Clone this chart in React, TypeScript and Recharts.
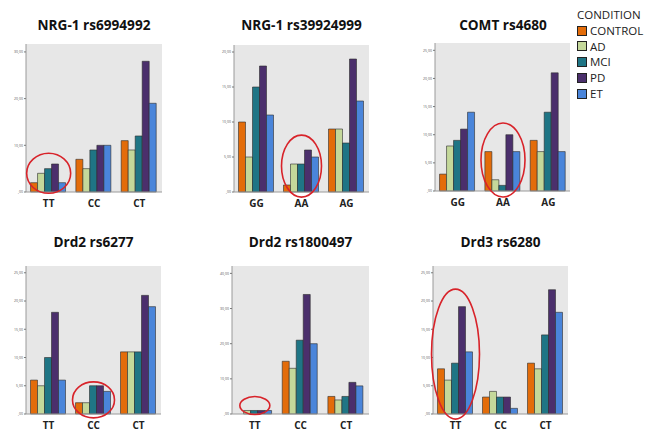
import { Bar, BarChart, CartesianGrid, ReferenceDot, XAxis, YAxis } from 'recharts'

const conditions = ['CONTROL', 'AD', 'MCI', 'PD', 'ET']
const colors = ['#E36C0A', '#C4D89A', '#1F7585', '#4B2F6C', '#4A85DA']

// values per genotype, in condition order
const nrg1aGenotypes = ['TT', 'CC', 'CT']
const nrg1aValues = [
  [2, 4, 5, 6, 2],
  [7, 5, 9, 10, 10],
  [11, 9, 12, 28, 19],
]
const nrg1aTicks = [0, 10, 20, 30]

const nrg1bGenotypes = ['GG', 'AA', 'AG']
const nrg1bValues = [
  [10, 5, 15, 18, 11],
  [1, 4, 4, 6, 5],
  [9, 9, 7, 19, 13],
]
const nrg1bTicks = [0, 5, 10, 15, 20]

const comtGenotypes = ['GG', 'AA', 'AG']
const comtValues = [
  [3, 8, 9, 11, 14],
  [7, 2, 1, 10, 7],
  [9, 7, 14, 21, 7],
]
const comtTicks = [0, 5, 10, 15, 20, 25]

const drd2aGenotypes = ['TT', 'CC', 'CT']
const drd2aValues = [
  [6, 5, 10, 18, 6],
  [2, 2, 5, 5, 4],
  [11, 11, 11, 21, 19],
]
const drd2aTicks = [0, 5, 10, 15, 20, 25]

const drd2bGenotypes = ['TT', 'CC', 'CT']
const drd2bValues = [
  [0, 1, 1, 1, 1],
  [15, 13, 21, 34, 20],
  [5, 4, 5, 9, 8],
]
const drd2bTicks = [0, 10, 20, 30, 40]

const drd3Genotypes = ['TT', 'CC', 'CT']
const drd3Values = [
  [8, 6, 9, 19, 11],
  [3, 4, 3, 3, 1],
  [9, 8, 14, 22, 18],
]
const drd3Ticks = [0, 5, 10, 15, 20, 25]

const toRows = (genotypes: string[], values: number[][]) =>
  genotypes.map((g, i) => {
    const row: Record<string, string | number> = { g }
    conditions.forEach((c, j) => (row[c] = values[i][j]))
    return row
  })

const panels = [
  {
    title: 'NRG-1 rs6994992', rows: toRows(nrg1aGenotypes, nrg1aValues), ticks: nrg1aTicks, max: 31.7,
    plot: [26, 44, 162, 192], cell: [0, 0], mark: { g: 'TT', y: 4, rx: 22, ry: 20 },
  },
  {
    title: 'NRG-1 rs39924999', rows: toRows(nrg1bGenotypes, nrg1bValues), ticks: nrg1bTicks, max: 21,
    plot: [234, 45, 369, 192], cell: [190, 0], mark: { g: 'AA', y: 3.7, rx: 20, ry: 31 },
  },
  {
    title: 'COMT rs4680', rows: toRows(comtGenotypes, comtValues), ticks: comtTicks, max: 26.3,
    plot: [435, 43, 571, 191], cell: [380, 0], mark: { g: 'AA', y: 5.5, rx: 22, ry: 37 },
  },
  {
    title: 'Drd2 rs6277', rows: toRows(drd2aGenotypes, drd2aValues), ticks: drd2aTicks, max: 26.2,
    plot: [26, 266, 161, 414], cell: [0, 215], mark: { g: 'CC', y: 2.5, rx: 21, ry: 18 },
  },
  {
    title: 'Drd2 rs1800497', rows: toRows(drd2bGenotypes, drd2bValues), ticks: drd2bTicks, max: 42.1,
    plot: [232, 266, 369, 414], cell: [190, 215], mark: { g: 'TT', y: 2.4, rx: 15, ry: 9 },
  },
  {
    title: 'Drd3 rs6280', rows: toRows(drd3Genotypes, drd3Values), ticks: drd3Ticks, max: 26.2,
    plot: [433, 266, 568, 414], cell: [380, 215], mark: { g: 'TT', y: 10.6, rx: 24, ry: 65 },
  },
]

const fmt = (v: number) => (v === 0 ? ',00' : `${v},00`)
const font = '"Open Sans", "Liberation Sans", sans-serif'

const Panel = ({ p }: { p: (typeof panels)[number] }) => {
  const [cx, cy] = p.cell
  const [x1, y1, x2, y2] = p.plot
  const w = 190
  const h = p.cell[1] === 0 ? 215 : 217
  const yw = 16
  const xh = 20
  const { rx, ry } = p.mark
  return (
    <>
      <div
        style={{
          position: 'absolute', left: x1 - 20, width: x2 - x1 + 40, top: cy + (cy === 0 ? 15 : 17), textAlign: 'center',
          fontWeight: 700, fontSize: 13.6, color: '#111', whiteSpace: 'nowrap',
        }}>
        {p.title}
      </div>
      <div style={{ position: 'absolute', left: cx, top: cy }}>
        <BarChart
          width={w}
          height={h}
          data={p.rows}
          barGap={0}
          barCategoryGap='10%'
          margin={{ top: y1 - cy, left: x1 - cx - yw, right: cx + w - x2, bottom: cy + h - y2 - xh }}>
          <CartesianGrid fill='#E7E7E7' horizontal={false} vertical={false} />
          <XAxis
            dataKey='g'
            height={xh}
            tickLine={false}
            axisLine={{ stroke: '#9a9a9a' }}
            tick={{ fontSize: 10, fontWeight: 700, fill: '#222', fontFamily: font }}
          />
          <XAxis xAxisId='top' dataKey='g' orientation='top' height={0} tick={false} tickLine={false} axisLine={{ stroke: '#9a9a9a' }} />
          <YAxis
            width={yw}
            domain={[0, p.max]}
            ticks={p.ticks}
            tickFormatter={fmt}
            tickSize={2}
            tickMargin={1}
            axisLine={{ stroke: '#9a9a9a' }}
            tickLine={{ stroke: '#777' }}
            tick={{ fontSize: 3.5, fill: '#555', fontFamily: font }}
          />
          <YAxis yAxisId='right' orientation='right' width={0} tick={false} tickLine={false} axisLine={{ stroke: '#9a9a9a' }} />
          {conditions.map((c, i) => (
            <Bar key={c} dataKey={c} fill={colors[i]} stroke='#2b2b2b' strokeWidth={0.6} isAnimationActive={false} />
          ))}
          <ReferenceDot
            x={p.mark.g}
            y={p.mark.y}
            shape={(s: any) => (
              <ellipse cx={s.cx} cy={s.cy} rx={rx} ry={ry} fill='none' stroke='#D8232A' strokeWidth={1.6} />
            )}
          />
        </BarChart>
      </div>
    </>
  )
}

const App = () => (
  <div
    style={{
      position: 'absolute', left: 0, top: 0, width: 645, height: 432, background: '#fff',
      overflow: 'hidden', fontFamily: font,
    }}>
    {panels.map((p) => (
      <Panel key={p.title} p={p} />
    ))}
    <div style={{ position: 'absolute', left: 577, top: 7, fontSize: 11.5, color: '#222', lineHeight: '15.8px' }}>
      <div>CONDITION</div>
      {conditions.map((c, i) => (
        <div key={c} style={{ display: 'flex', alignItems: 'center', whiteSpace: 'nowrap' }}>
          <span
            style={{
              width: 8, height: 8, background: colors[i], border: '1px solid #222',
              marginRight: 3, display: 'inline-block',
            }}
          />
          {c}
        </div>
      ))}
    </div>
  </div>
)

export default App
